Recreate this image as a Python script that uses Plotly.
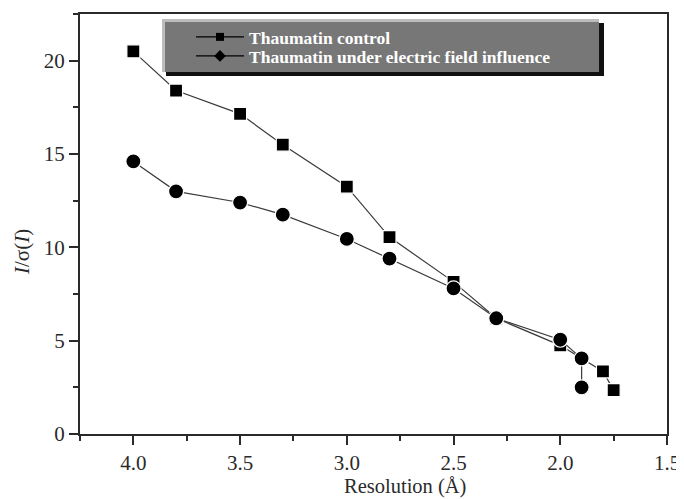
import plotly.graph_objects as go

# Data
control_res = [4.0, 3.8, 3.5, 3.3, 3.0, 2.8, 2.5, 2.3, 2.0, 1.8, 1.75]
control_val = [20.5, 18.4, 17.15, 15.5, 13.25, 10.55, 8.15, 6.2, 4.75, 3.35, 2.35]

field_res = [4.0, 3.8, 3.5, 3.3, 3.0, 2.8, 2.5, 2.3, 2.0, 1.9, 1.9]
field_val = [14.6, 13.0, 12.4, 11.75, 10.45, 9.4, 7.8, 6.2, 5.05, 4.05, 2.5]

x_ticks = [4.0, 3.5, 3.0, 2.5, 2.0, 1.5]
x_tick_text = ["4.0", "3.5", "3.0", "2.5", "2.0", "1.5"]
y_ticks = [0, 5, 10, 15, 20]

names = ["Thaumatin control", "Thaumatin under electric field influence"]

AX = "#2a2a2a"
FONT = "Liberation Serif, Times New Roman, serif"

# the page body has an 8px margin, so the figure starts at (8, 8) in the window
PLOT_L, PLOT_R, PLOT_T, PLOT_B = 80, 667, 14, 434


def px2x(p):
    return (p - PLOT_L) / float(PLOT_R - PLOT_L)


def py2y(p):
    return (PLOT_B - p) / float(PLOT_B - PLOT_T)


leg_font = dict(family=FONT, size=17.5, color="white", weight="bold")

fig = go.Figure()
fig.add_trace(go.Scatter(
    x=control_res, y=control_val, mode="lines+markers", showlegend=False,
    name=names[0],
    line=dict(color="#3a3a3a", width=1.2),
    marker=dict(symbol="square", size=13, color="black", line=dict(color="white", width=1.2)),
))
fig.add_trace(go.Scatter(
    x=field_res, y=field_val, mode="lines+markers", showlegend=False,
    name=names[1],
    line=dict(color="#3a3a3a", width=1.2),
    marker=dict(symbol="circle", size=15, color="black", line=dict(color="white", width=1.2)),
))
# legend entries (small symbols as in the reference legend)
fig.add_trace(go.Scatter(
    x=[None], y=[None], mode="lines+markers", name=names[0], legend="legend",
    line=dict(color="black", width=1.2),
    marker=dict(symbol="square", size=8, color="black"),
))
fig.add_trace(go.Scatter(
    x=[None], y=[None], mode="lines+markers", name=names[1], legend="legend2",
    line=dict(color="black", width=1.2),
    marker=dict(symbol="diamond", size=9, color="black"),
))

# legend box (shadow, highlight, fill)
fig.add_shape(type="rect", xref="paper", yref="paper", layer="above",
              x0=px2x(166), x1=px2x(604), y0=py2y(76), y1=py2y(23),
              fillcolor="#111111", line=dict(width=0))
fig.add_shape(type="rect", xref="paper", yref="paper", layer="above",
              x0=px2x(162), x1=px2x(599), y0=py2y(72), y1=py2y(19),
              fillcolor="#bdbdbd", line=dict(width=0))
fig.add_shape(type="rect", xref="paper", yref="paper", layer="above",
              x0=px2x(165), x1=px2x(599), y0=py2y(72), y1=py2y(22),
              fillcolor="#777777", line=dict(width=0))

fig.add_annotation(
    text="<i>I</i>/σ(<i>I</i>)", xref="paper", yref="paper",
    x=px2x(22), y=py2y(252), textangle=-90, showarrow=False,
    font=dict(family=FONT, size=21, color=AX), xanchor="center", yanchor="middle",
)
fig.add_annotation(
    text="Resolution (Å)", xref="paper", yref="paper",
    x=px2x(405), y=py2y(486), showarrow=False,
    font=dict(family=FONT, size=20.5, color=AX), xanchor="center", yanchor="middle",
)

legend_common = dict(
    xanchor="left", yanchor="middle",
    bgcolor="rgba(0,0,0,0)", borderwidth=0,
    font=leg_font, itemwidth=48,
)

fig.update_layout(
    width=676, height=491,
    margin=dict(l=PLOT_L - 8, r=684 - PLOT_R, t=PLOT_T - 8, b=499 - PLOT_B),
    plot_bgcolor="white", paper_bgcolor="white",
    font=dict(family=FONT, size=21, color=AX),
    showlegend=True,
    legend=dict(x=px2x(191), y=py2y(37), **legend_common),
    legend2=dict(x=px2x(191), y=py2y(56), **legend_common),
    xaxis=dict(
        range=[4.25, 1.5], tickvals=x_ticks, ticktext=x_tick_text,
        showgrid=False, zeroline=False, automargin=False,
        showline=True, linecolor=AX, linewidth=2, mirror=True,
        ticks="outside", ticklen=9, tickwidth=2, tickcolor=AX,
        minor=dict(dtick=0.25, ticks="outside", ticklen=5, tickwidth=2, tickcolor=AX, tick0=1.5),
        tickfont=dict(family=FONT, size=21, color=AX),
    ),
    yaxis=dict(
        range=[0, 22.5], tickvals=y_ticks,
        showgrid=False, zeroline=False, automargin=False,
        showline=True, linecolor=AX, linewidth=2, mirror=True,
        ticks="outside", ticklen=9, tickwidth=2, tickcolor=AX,
        minor=dict(dtick=2.5, ticks="outside", ticklen=5, tickwidth=2, tickcolor=AX, tick0=0),
        tickfont=dict(family=FONT, size=21, color=AX),
    ),
)

fig.write_html("out.html")
